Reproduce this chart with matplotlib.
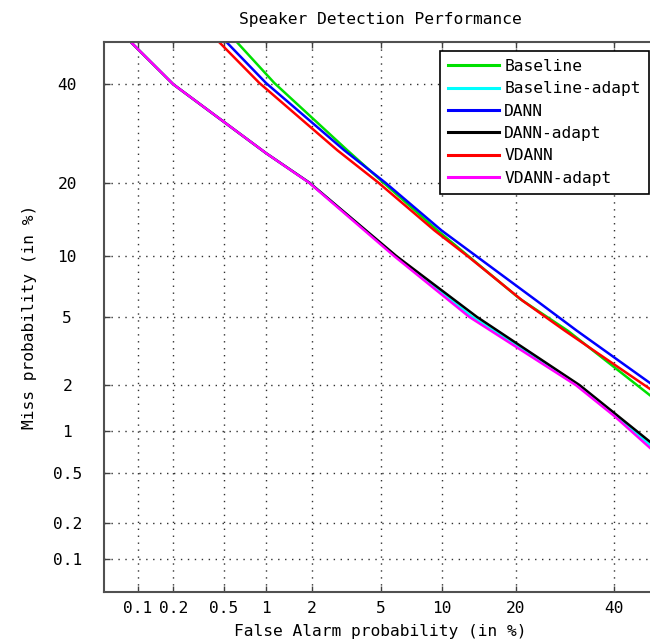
import matplotlib
matplotlib.use("Agg")
import matplotlib.pyplot as plt
import numpy as np
from statistics import NormalDist

nd = NormalDist()

def probit(p):
    p = np.clip(np.asarray(p, dtype=float) / 100.0, 1e-9, 1 - 1e-9)
    return np.vectorize(nd.inv_cdf, otypes=[float])(p)

def unprobit(z):
    return np.vectorize(nd.cdf, otypes=[float])(np.asarray(z, dtype=float)) * 100.0

# values (in %)
baseline_fa = [0.62, 1.14, 3.27, 5.18, 9.58, 20.7, 29.8, 48.3]
baseline_miss = [50, 40.3, 25.85, 20, 12.97, 6.23, 4.2, 1.73]

baseline_adapt_fa = [0.087, 0.20, 1.0, 1.93, 6.0, 13.6, 31.9, 40.0, 48.3]
baseline_adapt_miss = [50, 40, 25.3, 20, 10, 5, 2, 1.29, 0.80]

dann_fa = [0.52, 1.0, 3.14, 5.30, 10.0, 23.7, 31.7, 48.3]
dann_miss = [50, 40.3, 25.85, 20, 12.97, 6.08, 4.2, 2.07]

dann_adapt_fa = [0.087, 0.20, 1.0, 1.93, 6.06, 14.2, 32.3, 40.0, 48.3]
dann_adapt_miss = [50, 40, 25.3, 20, 10, 5, 2, 1.32, 0.84]

vdann_fa = [0.458, 0.90, 2.86, 4.87, 9.28, 13.0, 21.2, 29.2, 48.3]
vdann_miss = [50, 40.3, 25.85, 20, 12.97, 10, 6.08, 4.2, 1.90]

vdann_adapt_fa = [0.087, 0.20, 1.0, 1.92, 5.9, 13.2, 31.5, 40.0, 48.3]
vdann_adapt_miss = [50, 40, 25.3, 20, 10, 5, 2, 1.26, 0.76]

tick_vals = [0.1, 0.2, 0.5, 1, 2, 5, 10, 20, 40]
tick_labels = ["0.1", "0.2", "0.5", "1", "2", "5", "10", "20", "40"]

plt.rcParams['font.family'] = ['DejaVu Sans Mono']
plt.rcParams['font.size'] = 11.7

fig = plt.figure(figsize=(6.5, 6.44), dpi=100)
ax = fig.add_axes([104 / 650, 52 / 644, 553 / 650, 550 / 644])
ax.set_xscale('function', functions=(probit, unprobit))
ax.set_yscale('function', functions=(probit, unprobit))

ax.plot(baseline_fa, baseline_miss, color="#00e000", lw=1.8, label="Baseline")
ax.plot(baseline_adapt_fa, baseline_adapt_miss, color="#00ffff", lw=1.8, label="Baseline-adapt")
ax.plot(dann_fa, dann_miss, color="#0000ff", lw=1.8, label="DANN")
ax.plot(dann_adapt_fa, dann_adapt_miss, color="k", lw=1.8, label="DANN-adapt")
ax.plot(vdann_fa, vdann_miss, color="#ff0000", lw=1.8, label="VDANN")
ax.plot(vdann_adapt_fa, vdann_adapt_miss, color="#ff00ff", lw=1.8, label="VDANN-adapt")

ax.set_xlim(0.05, 50)
ax.set_ylim(0.05, 50)
ax.set_xticks(tick_vals)
ax.set_xticklabels(tick_labels)
ax.set_yticks(tick_vals)
ax.set_yticklabels(tick_labels)
ax.minorticks_off()
ax.tick_params(direction='in', length=4.5, width=1, top=True, right=True,
               color='#404040')
ax.tick_params(axis='x', pad=6.5)
ax.tick_params(axis='y', pad=26.5)
for t in ax.get_yticklabels():
    t.set_ha('center')

for s in ax.spines.values():
    s.set_color('#505050')
    s.set_linewidth(1.5)

ax.grid(True, color='#303030', linestyle=(0, (1, 4)), linewidth=1.0)

ax.set_title("Speaker Detection Performance", fontsize=11.7, pad=13)
ax.set_xlabel("False Alarm probability (in %)", labelpad=6)
ax.set_ylabel("Miss probability (in %)")
ax.yaxis.set_label_coords(-0.121, 0.5)

leg = ax.legend(loc='upper left', bbox_to_anchor=(0.6076, 0.9836),
                borderaxespad=0, handlelength=3.1, handletextpad=0.36,
                labelspacing=0.45, borderpad=0.5, fancybox=False,
                framealpha=1, edgecolor='k')
leg.get_frame().set_linewidth(1.2)
for line in leg.get_lines():
    line.set_linewidth(2.2)

fig.savefig("out.png", dpi=100)
